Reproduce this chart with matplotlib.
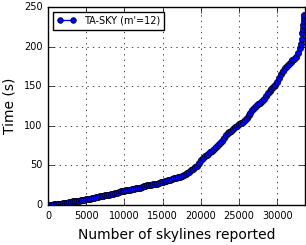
import matplotlib
matplotlib.use('Agg')
import matplotlib.pyplot as plt

# skylines reported vs elapsed time (one reading per mark)
skylines = [0, 250, 500, 750, 1000, 1250, 1500, 1750, 2000, 2250,
            2500, 2750, 3000, 3250, 3500, 3750, 4000, 4250, 4500, 4750,
            5000, 5250, 5500, 5750, 6000, 6250, 6500, 6750, 7000, 7250,
            7500, 7750, 8000, 8250, 8500, 8750, 9000, 9250, 9500, 9750,
            10000, 10250, 10500, 10750, 11000, 11250, 11500, 11750, 12000, 12250,
            12500, 12750, 13000, 13250, 13500, 13750, 14000, 14250, 14500, 14750,
            15000, 15250, 15500, 15750, 16000, 16250, 16500, 16750, 17000, 17250,
            17500, 17750, 18000, 18250, 18500, 18750, 19000, 19250, 19500, 19750,
            20000, 20250, 20500, 20750, 21000, 21250, 21500, 21750, 22000, 22250,
            22500, 22750, 23000, 23250, 23500, 23750, 24000, 24250, 24500, 24750,
            25000, 25250, 25500, 25750, 26000, 26250, 26500, 26750, 27000, 27250,
            27500, 27750, 28000, 28250, 28500, 28750, 29000, 29250, 29500, 29750,
            30000, 30250, 30500, 30750, 31000, 31250, 31500, 31750, 32000, 32250,
            32500, 32750, 33000, 33100, 33200, 33300, 33350, 33400, 33450, 33500,
            33550]
times = [0.3, 0.5, 0.7, 0.9, 1.1, 1.3, 1.6, 1.9, 2.2, 2.6,
         3.0, 3.5, 4.2, 4.6, 5.0, 5.3, 5.6, 6.0, 6.4, 6.7,
         7.1, 7.6, 8.1, 8.8, 9.5, 10.0, 10.4, 10.9, 11.3, 11.8,
         12.3, 12.8, 13.2, 13.7, 14.1, 14.8, 15.6, 16.5, 17.2, 17.7,
         18.1, 18.6, 19.1, 19.6, 20.1, 20.6, 21.0, 21.5, 22.0, 22.8,
         23.6, 24.3, 24.8, 25.2, 25.6, 26.0, 26.4, 27.0, 27.7, 28.5,
         29.2, 30.0, 30.8, 31.5, 32.2, 32.9, 33.6, 34.3, 35.0, 35.9,
         36.8, 37.8, 39.0, 40.5, 42.0, 43.8, 45.5, 47.5, 49.5, 52.5,
         56.5, 60.0, 61.5, 63.0, 64.5, 66.5, 68.5, 70.5, 73.0, 75.5,
         78.0, 81.5, 85.0, 88.5, 91.0, 92.5, 94.0, 96.0, 98.0, 100.0,
         102.0, 103.5, 105.5, 108.0, 110.5, 113.5, 116.5, 120.0, 123.0, 125.5,
         127.5, 129.5, 131.5, 134.5, 138.0, 141.5, 144.5, 147.0, 149.5, 152.0,
         155.0, 160.0, 165.0, 169.0, 172.5, 175.5, 178.0, 180.5, 183.0, 185.0,
         187.5, 191.5, 198.0, 203.0, 210.0, 217.0, 222.0, 227.0, 232.0, 236.0,
         240.0]

plt.style.use('classic')
fig = plt.figure(figsize=(3.06, 2.45), dpi=100)
ax = fig.add_axes([0.157, 0.163, 0.84, 0.808])

ax.plot(skylines, times, 'o-', color='blue', mec='black', ms=4.5, lw=1,
        label="TA-SKY (m'=12)")

ax.set_xlim(0, 33650)
ax.set_ylim(0, 250)
ax.set_xticks([0, 5000, 10000, 15000, 20000, 25000, 30000])
ax.set_yticks([0, 50, 100, 150, 200, 250])
ax.tick_params(labelsize=7)
ax.grid(True, linestyle=':', color='black')
ax.set_xlabel('Number of skylines reported', fontsize=10)
ax.set_ylabel('Time (s)', fontsize=10)
ax.legend(loc='upper left', fontsize=7, numpoints=2, markerscale=0.9)

fig.savefig('out.png', dpi=100)
